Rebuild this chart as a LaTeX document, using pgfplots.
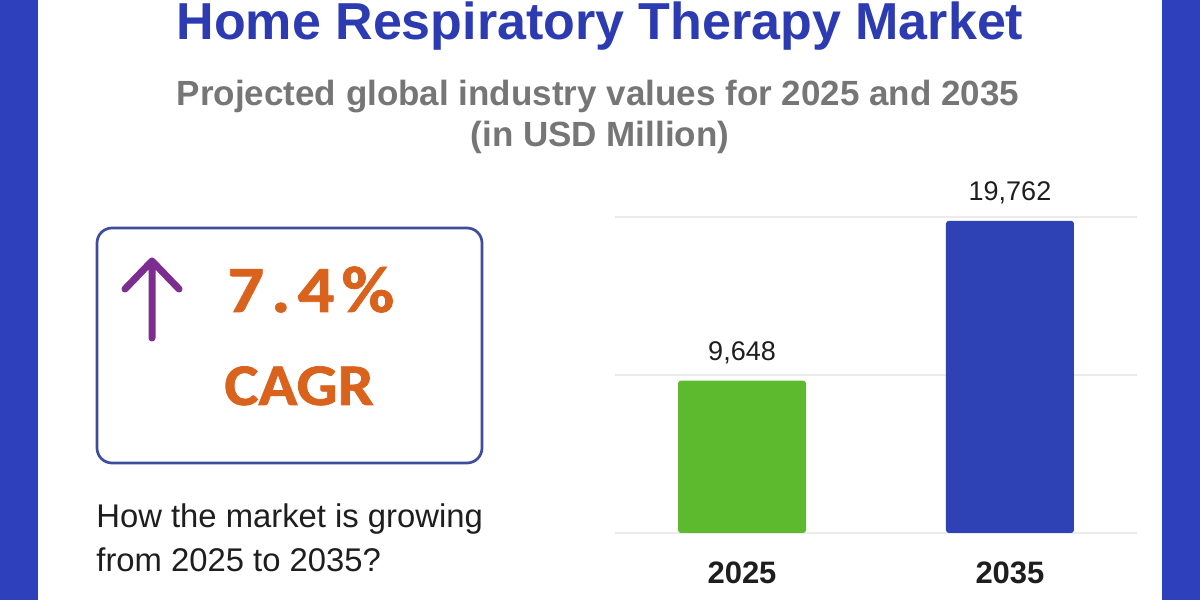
\documentclass[border=0pt]{standalone}
\usepackage{pgfplots}
\pgfplotsset{compat=1.18}
\usepackage{fontspec}
\setmainfont{Liberation Sans}
\newfontfamily\calfont{Carlito}[BoldFeatures={FakeBold=1.2}]

\definecolor{bandblue}{HTML}{2F40BD}
\definecolor{titleblue}{HTML}{2C3BB1}
\definecolor{subgray}{HTML}{767676}
\definecolor{boxborder}{HTML}{3E4C9D}
\definecolor{arrowpurple}{HTML}{7D2C8F}
\definecolor{cagrorange}{HTML}{D9621D}
\definecolor{bargreen}{HTML}{5DB92E}
\definecolor{barblue}{HTML}{2F42B5}
\definecolor{gridgray}{HTML}{EBEBEB}
\definecolor{textdark}{HTML}{1E1E1E}

% market size, USD million
\pgfplotstableread{
x  value
0  9648
1  19762
}\marketdata

\begin{document}
\begin{tikzpicture}
\useasboundingbox (0pt,0pt) rectangle (600pt,300pt);
\begin{scope}[x=0.5pt, y=-0.5pt, shift={(0pt,300pt)}]
  % frame
  \fill[bandblue] (0,0) rectangle (1200,600);
  \fill[white] (38,0) rectangle (1162,600);

  % headings
  \node[anchor=base, inner sep=0pt, text=titleblue]
    at (600,40) {\fontsize{26}{30}\selectfont\bfseries Home Respiratory Therapy Market};
  \node[anchor=base, inner sep=0pt, text=subgray]
    at (598,106) {\fontsize{17.5}{21}\selectfont\bfseries Projected global industry values for 2025 and 2035};
  \node[anchor=base, inner sep=0pt, text=subgray]
    at (600,147) {\fontsize{17.5}{21}\selectfont\bfseries (in USD Million)};

  % CAGR card
  \draw[boxborder, line width=1.35pt, rounded corners=7.5pt] (97,228) rectangle (482,463);
  \draw[arrowpurple, line width=3.5pt, line cap=round, line join=round]
    (152,338) -- (152,261) (125,289) -- (152,261) -- (179,289);
  \node[anchor=base west, inner sep=0pt, text=cagrorange] at (227,312)
    {\scalebox{1.1}[1]{\calfont\fontsize{33}{36}\selectfont\bfseries 7\kern3.2pt.\kern3.2pt4\kern3.2pt\%}};
  \node[anchor=base west, inner sep=0pt, text=cagrorange] at (224,405)
    {\scalebox{1.09}[1]{\calfont\fontsize{29.5}{33}\selectfont\bfseries CAGR}};

  \node[anchor=base west, inner sep=0pt, text=textdark] at (96,528)
    {\fontsize{16.4}{20}\selectfont How the market is growing};
  \node[anchor=base west, inner sep=0pt, text=textdark] at (96,572)
    {\fontsize{16.4}{20}\selectfont from 2025 to 2035?};
\end{scope}

\begin{axis}[
  at={(307.5pt,33.5pt)}, anchor=south west,
  width=261pt, height=158pt, scale only axis,
  xmin=-0.474, xmax=1.474,
  ymin=0, ymax=20000,
  axis line style={draw=none},
  major tick style={draw=none},
  ytick={0,10000,20000}, yticklabels={}, scaled y ticks=false,
  ymajorgrids, grid style={gridgray, line width=0.75pt},
  xtick={0,1}, xticklabels={2025,2035},
  xticklabel style={anchor=base, yshift=-21pt, text=textdark,
    font=\fontsize{15.5}{18}\selectfont\bfseries},
  ybar, bar width=64pt, bar shift=0pt,
  nodes near coords={\pgfmathprintnumber[fixed, precision=0, 1000 sep={,}, assume math mode=true]{\pgfplotspointmeta}},
  every node near coord/.append style={anchor=base, yshift=10pt, inner sep=0pt,
    text=textdark, font=\fontsize{13.5}{16}\selectfont},
  clip=false,
]
\addplot[draw=none, fill=bargreen, rounded corners=1.5pt] table[x=x, y=value, restrict expr to domain={\coordindex}{0:0}] {\marketdata};
\addplot[draw=none, fill=barblue, rounded corners=1.5pt] table[x=x, y=value, restrict expr to domain={\coordindex}{1:1}] {\marketdata};
\end{axis}
\end{tikzpicture}
\end{document}
